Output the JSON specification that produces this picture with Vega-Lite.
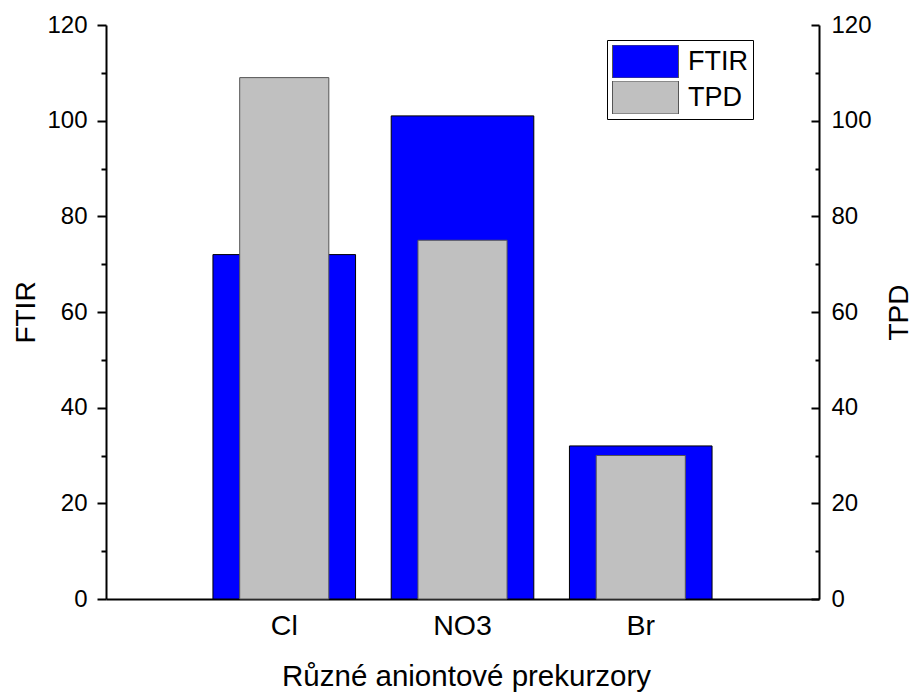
{
  "$schema": "https://vega.github.io/schema/vega-lite/v6.json",
  "width": 713,
  "height": 574,
  "autosize": {"type": "none"},
  "padding": {"left": 106, "top": 25, "right": 96, "bottom": 94},
  "background": "white",
  "config": {
    "view": {"stroke": null},
    "font": "Liberation Sans",
    "axis": {
      "domainColor": "black",
      "tickColor": "black",
      "labelColor": "black",
      "titleColor": "black",
      "grid": false,
      "domainWidth": 2,
      "tickWidth": 2,
      "titleFontWeight": "normal",
      "labelFont": "Liberation Sans",
      "titleFont": "Liberation Sans"
    },
    "legend": {
      "labelFont": "Liberation Sans",
      "labelColor": "black"
    }
  },
  "data": {
    "values": [
      {"precursor": "Cl", "FTIR": 72, "TPD": 109},
      {"precursor": "NO3", "FTIR": 101, "TPD": 75},
      {"precursor": "Br", "FTIR": 32, "TPD": 30}
    ]
  },
  "encoding": {
    "x": {
      "field": "precursor",
      "type": "nominal",
      "sort": null,
      "scale": {"paddingInner": 0, "paddingOuter": 0.5},
      "axis": {
        "title": "Různé aniontové prekurzory",
        "labelAngle": 0,
        "ticks": false,
        "labelFontSize": 28.5,
        "labelPadding": 12,
        "titleFontSize": 29.5,
        "titlePadding": 23,
        "titleX": 360
      }
    }
  },
  "layer": [
    {
      "mark": {"type": "bar", "width": {"band": 0.8}, "stroke": "black", "strokeWidth": 1},
      "encoding": {
        "y": {
          "field": "FTIR",
          "type": "quantitative",
          "scale": {"domain": [0, 120]},
          "axis": {
            "title": "FTIR",
            "orient": "left",
            "values": [0, 20, 40, 60, 80, 100, 120],
            "tickSize": 9,
            "labelFontSize": 24,
            "labelPadding": 10,
            "titleFontSize": 28,
            "titlePadding": 6
          }
        },
        "color": {
          "datum": "FTIR",
          "scale": {"domain": ["FTIR", "TPD"], "range": ["#0000FF", "#C0C0C0"]},
          "legend": {
            "orient": "none",
            "legendX": 501,
            "legendY": 15,
            "title": null,
            "symbolType": "M-1,-0.5H1V0.5H-1Z",
            "symbolSize": 4356,
            "symbolStrokeColor": "#333333",
            "symbolStrokeWidth": 1,
            "clipHeight": 33,
            "labelFontSize": 27,
            "labelOffset": 9,
            "padding": 5,
            "rowPadding": 3,
            "strokeColor": "black",
            "fillColor": "white",
            "cornerRadius": 0
          }
        }
      }
    },
    {
      "mark": {"type": "bar", "width": {"band": 0.5}, "stroke": "#555555", "strokeWidth": 1},
      "encoding": {
        "y": {
          "field": "TPD",
          "type": "quantitative",
          "scale": {"domain": [0, 120]},
          "axis": {
            "title": "TPD",
            "orient": "right",
            "values": [0, 20, 40, 60, 80, 100, 120],
            "tickSize": -8,
            "labelFontSize": 24,
            "labelPadding": 20,
            "titleFontSize": 28,
            "titlePadding": 14,
            "titleAngle": 270,
            "titleBaseline": "top"
          }
        },
        "color": {"datum": "TPD"}
      }
    },
    {
      "mark": {"type": "point", "opacity": 0},
      "encoding": {
        "y": {
          "field": "FTIR",
          "type": "quantitative",
          "scale": {"domain": [0, 120]},
          "axis": {
            "title": null,
            "orient": "left",
            "values": [10, 30, 50, 70, 90, 110],
            "tickSize": 5,
            "labels": false,
            "domain": false
          }
        }
      }
    },
    {
      "mark": {"type": "point", "opacity": 0},
      "encoding": {
        "y": {
          "field": "TPD",
          "type": "quantitative",
          "scale": {"domain": [0, 120]},
          "axis": {
            "title": null,
            "orient": "right",
            "values": [10, 30, 50, 70, 90, 110],
            "tickSize": -4,
            "labels": false,
            "domain": false
          }
        }
      }
    }
  ],
  "resolve": {"scale": {"y": "independent"}}
}
